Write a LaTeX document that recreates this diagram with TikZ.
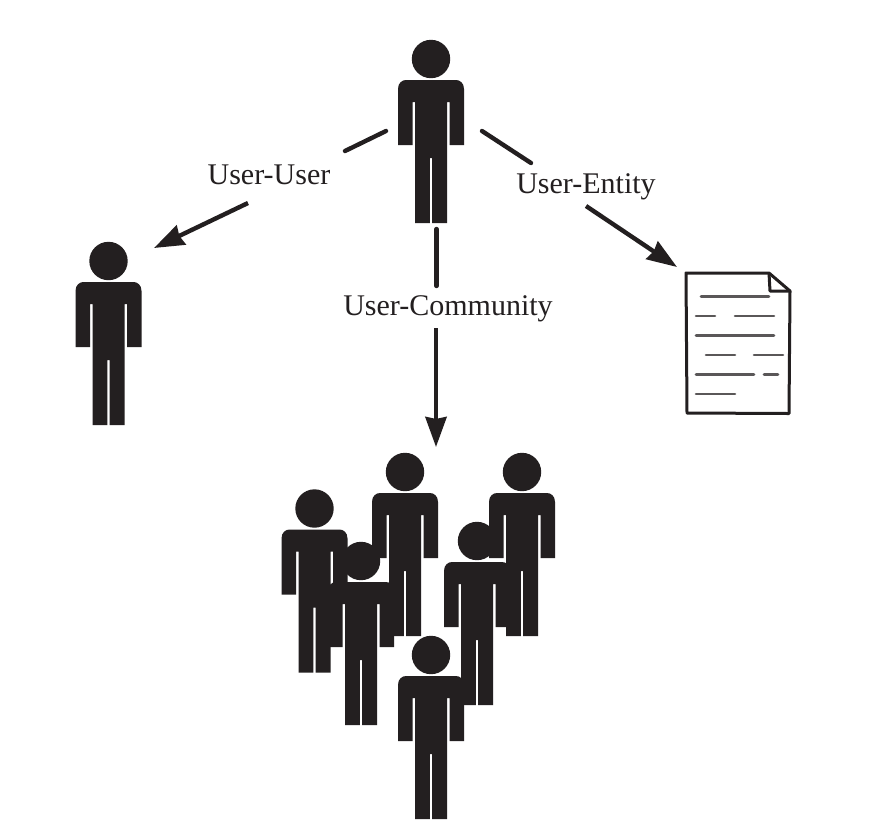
\documentclass[tikz,border=0pt]{standalone}
\usepackage{fontspec}
\setmainfont{Liberation Serif}
\usetikzlibrary{arrows.meta}
\definecolor{ink}{HTML}{231F20}
\tikzset{
  x=1pt,y=-1pt,
  figure/.style={fill=ink,draw=none},
  linkline/.style={draw=ink,line width=4.4pt,line cap=round},
  linkarrow/.style={draw=ink,line width=4.4pt,-{Stealth[length=30pt,width=21pt,inset=2pt]}},
  linklabel/.style={font=\fontsize{30}{32}\selectfont,text=ink,inner sep=0pt,anchor=base},
  docedge/.style={draw=ink,line width=3pt,line join=round},
  docline/.style={draw=ink!75,line width=2.6pt,line cap=round},
  pics/person/.style={code={
    \fill[figure] (0,0) circle (19.2);
    \fill[figure]
      (-33,30) .. controls (-33,24) and (-29,21) .. (-25,21)
      -- (25,21) .. controls (29,21) and (33,24) .. (33,30)
      -- (33,86) -- (18.5,86) -- (18.5,43) -- (16,43)
      -- (16,164) -- (1.2,164) -- (1.2,99) -- (-1.2,99) -- (-1.2,164)
      -- (-16,164) -- (-16,43) -- (-18.5,43) -- (-18.5,86) -- (-33,86) -- cycle;
  }}
}
\begin{document}
\begin{tikzpicture}
\useasboundingbox (0,0) rectangle (872,831);
\fill[white] (0,0) rectangle (872,831);
% people
\pic at (431,59) {person};
\pic at (108.5,261) {person};
\pic at (405,472) {person};
\pic at (522,472) {person};
\pic at (314.5,508.5) {person};
\pic at (361,561) {person};
\pic at (477,541) {person};
\pic at (431,655) {person};
% connector end points
\coordinate (uuA) at (386,131);
\coordinate (uuB) at (345,151);
\coordinate (uuC) at (248,203);
\coordinate (uuD) at (154,248);
\coordinate (ucA) at (436.5,229);
\coordinate (ucB) at (436.5,286);
\coordinate (ucC) at (436,328);
\coordinate (ucD) at (436,447);
\coordinate (ueA) at (482,131);
\coordinate (ueB) at (531,163);
\coordinate (ueC) at (586,206);
\coordinate (ueD) at (677,267);
\draw[linkline] (uuA) -- (uuB);
\draw[linkarrow] (uuC) -- (uuD);
\draw[linkline] (ucA) -- (ucB);
\draw[linkarrow] (ucC) -- (ucD);
\draw[linkline] (ueA) -- (ueB);
\draw[linkarrow] (ueC) -- (ueD);
\node[linklabel] (uu) at (269,184) {User-User};
\node[linklabel] (uc) at (448,315) {User-Community};
\node[linklabel] (ue) at (586,193) {User-Entity};
% document
\draw[docedge,fill=white]
  (686,273) -- (769,273) -- (790,291) -- (789,413.5) -- (687,413) -- cycle;
\draw[docedge] (769,273) -- (770,291) -- (790,291);
\draw[docline] (701,296.5) -- (769,296.5);
\draw[docline] (696,316) -- (715,316);
\draw[docline] (735,316) -- (774,316);
\draw[docline] (696,335.5) -- (774,335.5);
\draw[docline] (706,355) -- (735,355);
\draw[docline] (754,355) -- (783,355);
\draw[docline] (696,374.5) -- (754,374.5);
\draw[docline] (764,374.5) -- (778,374.5);
\draw[docline] (696,394) -- (735,394);
\end{tikzpicture}
\end{document}
